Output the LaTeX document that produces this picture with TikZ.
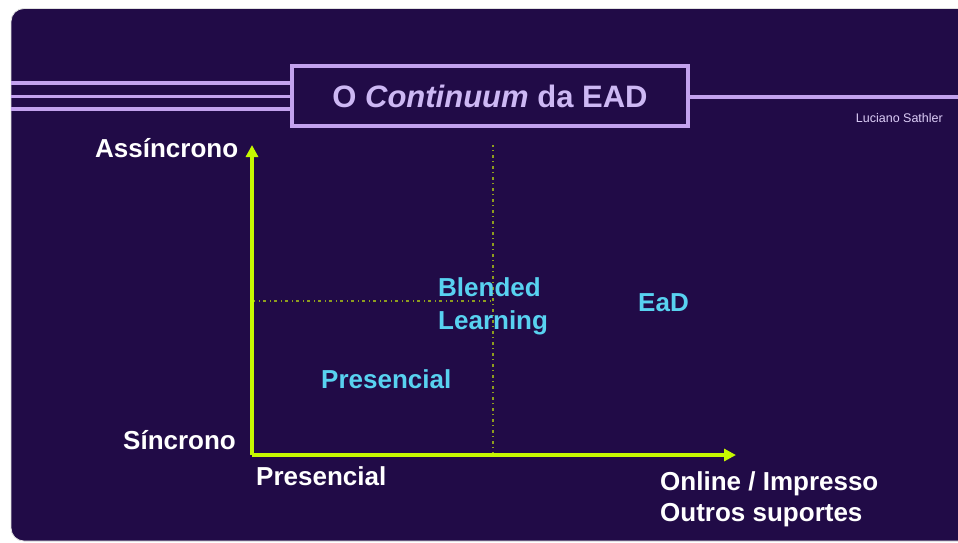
\documentclass[tikz,border=0pt]{standalone}
\usepackage{fontspec}
\setmainfont{Liberation Sans}
\usetikzlibrary{arrows.meta}
\definecolor{bgpurple}{HTML}{210B47}
\definecolor{lavender}{HTML}{C3A2EE}
\definecolor{titlelav}{HTML}{CDB8F4}
\definecolor{axisgreen}{HTML}{C6F800}
\definecolor{guideolive}{HTML}{8E9E1E}
\definecolor{labelcyan}{HTML}{58D2F0}
\tikzset{
  band/.style={draw=lavender, line width=3.4pt},
  axis/.style={draw=axisgreen, line width=3.8pt, -{Triangle[length=12pt,width=12pt]}},
  guide/.style={draw=guideolive, line width=1.3pt, dash pattern=on 3pt off 4pt on 1pt off 3pt},
  whitelabel/.style={text=white, font=\fontsize{26}{30}\selectfont\bfseries, inner sep=0pt},
  cyanlabel/.style={text=labelcyan, font=\fontsize{26}{33}\selectfont\bfseries, inner sep=0pt, align=left},
}
\begin{document}
\begin{tikzpicture}[x=1pt, y=-1pt]
  \useasboundingbox (0,0) rectangle (958,542);
  \clip (0,0) rectangle (958,542);
  \fill[white] (0,0) rectangle (958,542);
  % dark slide panel
  \fill[bgpurple, draw=black!12, line width=0.8pt, rounded corners=13pt] (11,8.5) rectangle (1000,541);

  % title banner
  \node[draw=lavender, line width=3.4pt, minimum width=396pt, minimum height=60pt, inner sep=0pt,
        text=titlelav, font=\fontsize{31}{36}\selectfont\bfseries] (title) at (490,96)
        {O \textit{Continuum} da EAD};
  \draw[band] (11,83) -- (title.west |- 0,83);
  \draw[band] (11,96.5) -- (title.west |- 0,96.5);
  \draw[band] (11,109) -- (title.west |- 0,109);
  \draw[band] (title.east |- 0,97) -- (958,97);
  \node[text=titlelav!70!white, font=\fontsize{12.5}{14}\selectfont, inner sep=0pt, anchor=base east] (author) at (943,122) {Luciano Sathler};

  % axes
  \coordinate (origin) at (252,455);
  \coordinate (ytop) at (252,145);
  \coordinate (xend) at (736,455);
  \coordinate (mid) at (493,455);
  \coordinate (midtop) at (493,145);
  \coordinate (hleft) at (252,301);
  \coordinate (hright) at (493,301);
  \draw[guide] (mid) -- (midtop);
  \draw[guide] (hleft) -- (hright);
  \draw[axis] (origin) -- (ytop);
  \draw[axis] (origin) -- (xend);

  % axis labels
  \node[whitelabel, anchor=base west] (async) at (95,157) {Assíncrono};
  \node[whitelabel, anchor=base west] (sync) at (123,449) {Síncrono};
  \node[whitelabel, anchor=base west] (xpres) at (256,485) {Presencial};
  \node[whitelabel, anchor=base west] (xonline) at (660,490) {Online / Impresso};
  \node[whitelabel, anchor=base west] (xoutros) at (660,521) {Outros suportes};

  % quadrant labels
  \node[cyanlabel, anchor=base west] (blend1) at (438,296) {Blended};
  \node[cyanlabel, anchor=base west] (blend2) at (438,329) {Learning};
  \node[cyanlabel, anchor=base west] (ead) at (638,311) {EaD};
  \node[cyanlabel, anchor=base west] (pres) at (321,388) {Presencial};
\end{tikzpicture}
\end{document}
